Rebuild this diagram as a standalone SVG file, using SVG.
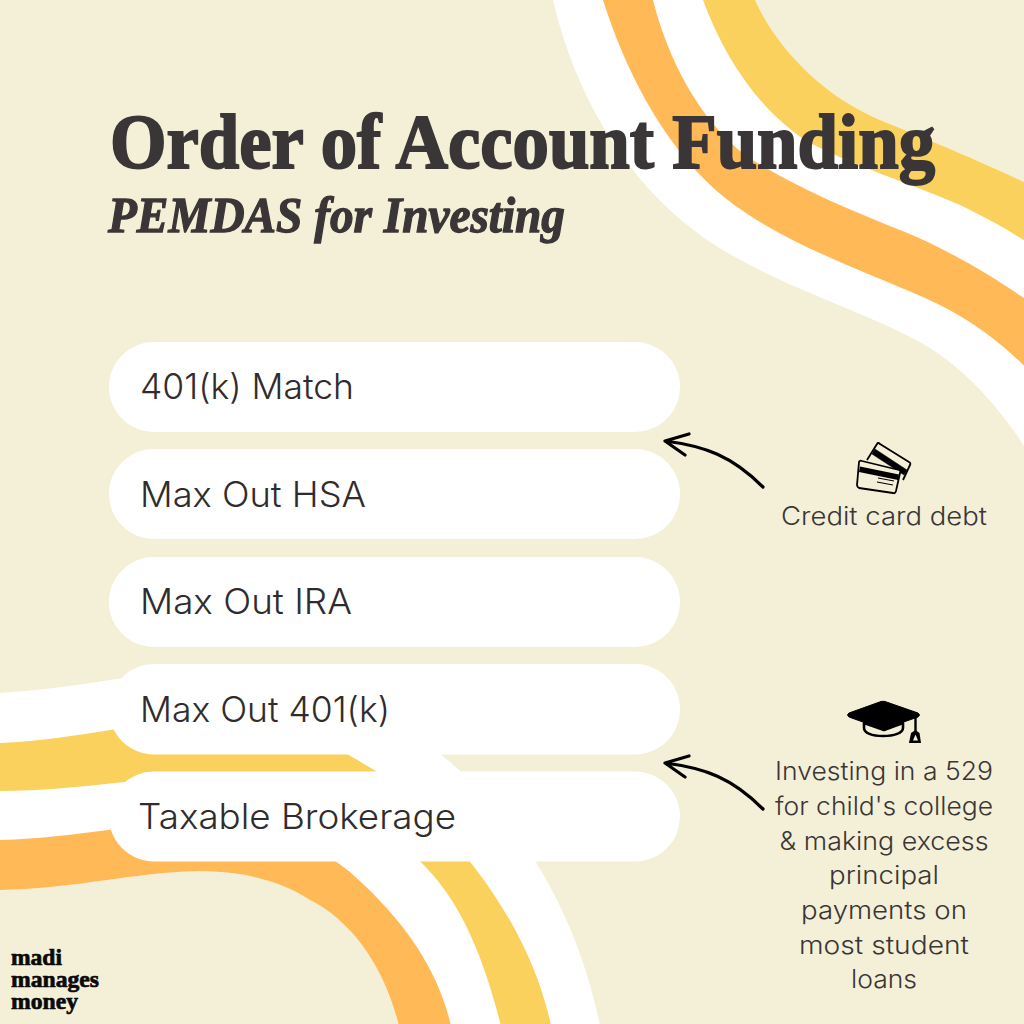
<svg xmlns="http://www.w3.org/2000/svg" width="1024" height="1024" viewBox="0 0 1024 1024">
<style>
.w{fill:#fff}.y{fill:#f9d15c}.o{fill:#ffb957}
.pill{fill:#fff}
.pt{font-family:"Inter","Open Sans",sans-serif;font-weight:300;font-size:35px;fill:#302c2d}
.st{font-family:"Inter","Open Sans",sans-serif;font-weight:300;font-size:25px;fill:#3a3637;text-anchor:middle}
.title{font-family:"Liberation Serif",serif;font-weight:700;fill:#3a3637;stroke:#3a3637}
.logo{font-family:"Liberation Serif",serif;font-weight:700;font-size:24px;fill:#0a0a0a;stroke:#0a0a0a;stroke-width:.7}
.arr{fill:none;stroke:#000;stroke-width:3.2;stroke-linecap:round;stroke-linejoin:round}
</style>
<rect width="1024" height="1024" fill="#f4f0d7"/>
<g id="bands-top">
<path class="w" d="M553,0C575,95 625,180 700,235C770,285 870,312 925,345C970,372 1005,415 1030,455L1030,185C1000,170 930,140 880,120C820,95 775,45 755,0Z"/>
<path class="o" d="M603,0C625,70 660,135 705,180C760,235 850,265 925,298C965,316 1000,340 1030,372L1030,302C1000,282 960,255 905,232C850,210 790,185 745,155C700,120 668,60 653,0Z"/>
<path class="y" d="M703,0C725,60 760,110 805,140C850,165 915,185 960,205C985,217 1005,228 1030,244L1030,185C1000,170 930,140 880,120C820,95 775,45 755,0Z"/>
</g>
<g id="bands-bottom">
<path class="w" d="M0,693C90,688 170,665 250,665C330,665 400,720 450,762C530,830 580,925 601,1030L400,1030C385,965 350,920 310,900C280,880 240,871 198,871C130,873 80,888 0,890Z"/>
<path class="y" d="M0,743C80,740 150,718 230,716C290,716 340,750 376,771C450,825 530,920 552,1030L502,1030C480,940 450,880 400,845C350,805 290,776 230,775C150,775 80,791 0,791Z"/>
<path class="o" d="M0,840C80,838 150,820 220,820C270,820 320,848 350,872C410,925 440,975 452,1030L400,1030C385,965 350,920 310,900C280,880 240,871 198,871C130,873 80,888 0,890Z"/>
</g>
<g id="title">
<text class="title" x="110" y="168" font-size="78" stroke-width="2" textLength="825" lengthAdjust="spacingAndGlyphs">Order of Account Funding</text>
<text class="title" x="108" y="232" font-size="50" font-style="italic" stroke-width="1.300" textLength="457" lengthAdjust="spacingAndGlyphs">PEMDAS for Investing</text>
</g>
<g id="node-401k-match"><rect class="pill" x="109" y="342" width="571" height="90" rx="45"/><text class="pt" x="140" y="399" textLength="214" lengthAdjust="spacingAndGlyphs">401(k) Match</text></g>
<g id="node-max-hsa"><rect class="pill" x="109" y="449" width="571" height="90" rx="45"/><text class="pt" x="140" y="507" textLength="226" lengthAdjust="spacingAndGlyphs">Max Out HSA</text></g>
<g id="node-max-ira"><rect class="pill" x="109" y="557" width="571" height="90" rx="45"/><text class="pt" x="140" y="614" textLength="212" lengthAdjust="spacingAndGlyphs">Max Out IRA</text></g>
<g id="node-max-401k"><rect class="pill" x="109" y="664" width="571" height="90.500" rx="45"/><text class="pt" x="140" y="722" textLength="250" lengthAdjust="spacingAndGlyphs">Max Out 401(k)</text></g>
<g id="node-taxable"><rect class="pill" x="109" y="771.500" width="571" height="90" rx="45"/><text class="pt" x="138" y="829" textLength="318" lengthAdjust="spacingAndGlyphs">Taxable Brokerage</text></g>
<g id="connectors">
<path class="arr" d="M763,487C732,456 705,446 665,441M689,434L665,441L685,455"/>
<path class="arr" d="M763,809C732,778 705,768 665,763M689,756L665,763L685,777"/>
</g>
<g id="node-credit-card">
<g stroke="#000" stroke-width="1.800" stroke-linejoin="round">
<path d="M867,460L877,444Q878,442 880,444L909,462Q911,463 910,465L903,480" fill="none"/>
<path d="M875,449L907,470L904,475L872,454Z" fill="#000" stroke-width=".5"/>
<path d="M859,462Q860,460 862,461L899,470Q901,471 900,473L896,491Q895,494 893,493L859,488Q857,487 857,485Z" fill="#f4f0d7"/>
</g>
<path d="M860,466.500L899,474.500L898,480L859,472Z" fill="#000"/>
<path d="M878,478L894,481M877,482L893,485" stroke="#000" stroke-width="1.200" fill="none"/>
<text class="st" x="884" y="525" textLength="206" lengthAdjust="spacingAndGlyphs">Credit card debt</text>
</g>
<g id="node-529">
<path d="M881,701.500Q883,701 885,701.500L918,713Q921,715 918,717L885,728.500Q883,729 881,728.500L849,717Q846,715 849,713Z" fill="#000" stroke="#000" stroke-linejoin="round"/>
<path d="M864,723V728C864,733 872,736 883,736C894,736 903,733 903,728V723L884,730Z" fill="#f4f0d7" stroke="#000" stroke-width="2.600" stroke-linejoin="round"/>
<path d="M915.500,716V731" stroke="#000" stroke-width="2.400" fill="none"/>
<path d="M915.500,730L911,733L909,743H921L919.500,733Z" fill="#000"/>
<path d="M915.500,734.500L913,740.500H918Z" fill="#f4f0d7"/>
<text class="st" x="884" y="780" textLength="218" lengthAdjust="spacingAndGlyphs">Investing in a 529</text>
<text class="st" x="884" y="815" textLength="218" lengthAdjust="spacingAndGlyphs">for child's college</text>
<text class="st" x="884" y="850" textLength="209" lengthAdjust="spacingAndGlyphs">&amp; making excess</text>
<text class="st" x="884" y="884" textLength="110" lengthAdjust="spacingAndGlyphs">principal</text>
<text class="st" x="884" y="919" textLength="166" lengthAdjust="spacingAndGlyphs">payments on</text>
<text class="st" x="884" y="954" textLength="170" lengthAdjust="spacingAndGlyphs">most student</text>
<text class="st" x="884" y="988" textLength="66" lengthAdjust="spacingAndGlyphs">loans</text>
</g>
<g id="logo">
<text class="logo" x="11" y="965" textLength="51" lengthAdjust="spacingAndGlyphs">madi</text>
<text class="logo" x="11" y="987" textLength="88" lengthAdjust="spacingAndGlyphs">manages</text>
<text class="logo" x="11" y="1009" textLength="67" lengthAdjust="spacingAndGlyphs">money</text>
</g>
</svg>
